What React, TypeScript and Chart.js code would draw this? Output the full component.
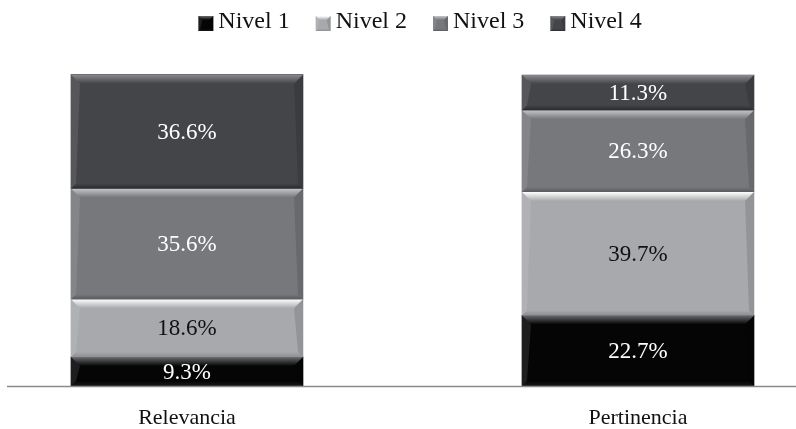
import React, { useEffect, useRef } from "react";
import { Chart, registerables } from "chart.js";

Chart.register(...registerables);

const categories = ["Relevancia", "Pertinencia"];
const seriesNames = ["Nivel 1", "Nivel 2", "Nivel 3", "Nivel 4"];
const nivel1 = [9.3, 22.7];
const nivel2 = [18.6, 39.7];
const nivel3 = [35.6, 26.3];
const nivel4 = [36.6, 11.3];
const seriesValues = [nivel1, nivel2, nivel3, nivel4];
const seriesColors = ["#050505", "#a7a9ac", "#77787b", "#444549"];
const labelColors = ["#ffffff", "#111111", "#ffffff", "#ffffff"];
const highlightColors = ["#6a6b6e", "#ffffff", "#c4c6c9", "#8a8b8f"];
const shadeColors = ["#1a1a1a", "#8c8e91", "#5a5b5e", "#2a2b2e"];

const FONT = "'Liberation Serif', 'DejaVu Serif', serif";

function drawBevelBox(
  ctx: CanvasRenderingContext2D,
  di: number,
  left: number,
  top: number,
  right: number,
  bottom: number,
  b: number,
  bb: number
) {
  ctx.fillStyle = seriesColors[di];
  ctx.fillRect(left, top, right - left, bottom - top);
  let g = ctx.createLinearGradient(0, top, 0, top + b);
  g.addColorStop(0, highlightColors[di]);
  g.addColorStop(1, seriesColors[di]);
  ctx.fillStyle = g;
  ctx.beginPath();
  ctx.moveTo(left, top);
  ctx.lineTo(right, top);
  ctx.lineTo(right - b, top + b);
  ctx.lineTo(left + b, top + b);
  ctx.closePath();
  ctx.fill();
  g = ctx.createLinearGradient(0, bottom - bb, 0, bottom);
  g.addColorStop(0, seriesColors[di]);
  g.addColorStop(1, shadeColors[di]);
  ctx.fillStyle = g;
  ctx.beginPath();
  ctx.moveTo(left, bottom);
  ctx.lineTo(right, bottom);
  ctx.lineTo(right - bb, bottom - bb);
  ctx.lineTo(left + bb, bottom - bb);
  ctx.closePath();
  ctx.fill();
  ctx.fillStyle = "rgba(255,255,255,0.10)";
  ctx.beginPath();
  ctx.moveTo(left, top);
  ctx.lineTo(left + b, top + b);
  ctx.lineTo(left + bb, bottom - bb);
  ctx.lineTo(left, bottom);
  ctx.closePath();
  ctx.fill();
  ctx.fillStyle = "rgba(0,0,0,0.12)";
  ctx.beginPath();
  ctx.moveTo(right, top);
  ctx.lineTo(right - b, top + b);
  ctx.lineTo(right - bb, bottom - bb);
  ctx.lineTo(right, bottom);
  ctx.closePath();
  ctx.fill();
}

const bevelPlugin = {
  id: "bevel",
  afterDatasetsDraw(chart: any) {
    const ctx = chart.ctx as CanvasRenderingContext2D;
    chart.data.datasets.forEach((ds: any, di: number) => {
      const meta = chart.getDatasetMeta(di);
      meta.data.forEach((bar: any, i: number) => {
        const p = bar.getProps(["x", "y", "base", "width"], true);
        const left = p.x - p.width / 2;
        const right = p.x + p.width / 2;
        const top = Math.min(p.y, p.base);
        const bottom = Math.max(p.y, p.base);
        const h = bottom - top;
        ctx.save();
        drawBevelBox(ctx, di, left, top, right, bottom, Math.min(9, h / 3), Math.min(5, h / 4));
        const v = ds.data[i];
        ctx.fillStyle = labelColors[di];
        ctx.font = `23px ${FONT}`;
        ctx.textAlign = "center";
        ctx.textBaseline = "middle";
        ctx.fillText(v.toFixed(1) + "%", p.x, (top + bottom) / 2 + 1);
        ctx.restore();
      });
    });
  },
  afterDraw(chart: any) {
    const ctx = chart.ctx as CanvasRenderingContext2D;
    const y = chart.scales.y.getPixelForValue(0);
    ctx.save();
    ctx.strokeStyle = "#8a8a8a";
    ctx.lineWidth = 1.5;
    ctx.beginPath();
    ctx.moveTo(7, y + 0.5);
    ctx.lineTo(chart.width, y + 0.5);
    ctx.stroke();

    // legend
    ctx.font = `24px ${FONT}`;
    const box = 15;
    const gapBoxText = 5;
    const spacing = 26;
    const widths = seriesNames.map((n) => ctx.measureText(n).width);
    const total =
      widths.reduce((a, w) => a + box + gapBoxText + w, 0) + spacing * (seriesNames.length - 1);
    let x = 420 - total / 2;
    const baseline = 28;
    seriesNames.forEach((n, di) => {
      drawBevelBox(ctx, di, x, 16, x + box, 16 + box, 4, 2);
      ctx.fillStyle = "#111";
      ctx.textAlign = "left";
      ctx.textBaseline = "alphabetic";
      ctx.fillText(n, x + box + gapBoxText, baseline);
      x += box + gapBoxText + widths[di] + spacing;
    });
    ctx.restore();
  },
};

export default function App() {
  const ref = useRef<HTMLCanvasElement | null>(null);
  useEffect(() => {
    if (!ref.current) return;
    const chart = new Chart(ref.current, {
      type: "bar",
      data: {
        labels: categories,
        datasets: seriesNames.map((name, i) => ({
          label: name,
          data: seriesValues[i],
          backgroundColor: seriesColors[i],
          borderWidth: 0,
          barThickness: 232,
          clip: false as any,
        })),
      },
      options: {
        animation: false,
        responsive: true,
        maintainAspectRatio: false,
        layout: { padding: { left: 187, right: 158, top: 75, bottom: 0 } },
        plugins: {
          legend: { display: false },
          tooltip: { enabled: false },
        },
        scales: {
          x: {
            stacked: true,
            offset: false,
            grid: { display: false, drawTicks: false },
            border: { display: false },
            ticks: {
              font: { family: FONT, size: 22 },
              color: "#111",
              padding: 19,
              maxRotation: 0,
              autoSkip: false,
            },
            afterFit: (s: any) => {
              s.height = 43;
            },
          },
          y: {
            stacked: true,
            min: 0,
            max: 100,
            display: false,
          },
        },
      },
      plugins: [bevelPlugin],
    });
    return () => chart.destroy();
  }, []);
  return (
    <div style={{ position: "fixed", left: 0, top: 0, width: 796, height: 429, background: "#fff" }}>
      <canvas ref={ref} />
    </div>
  );
}
